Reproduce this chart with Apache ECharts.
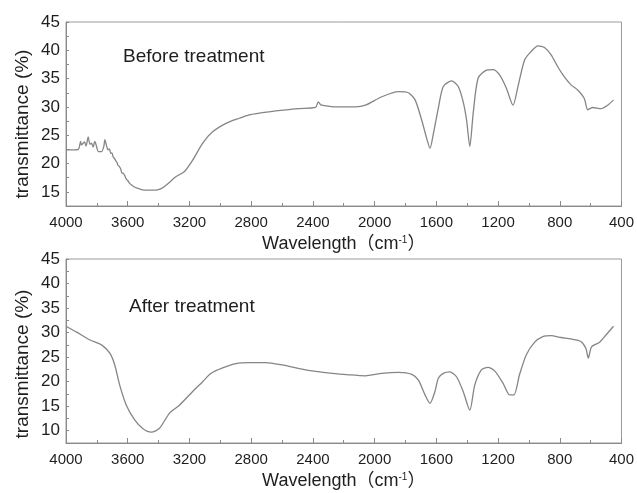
<!DOCTYPE html>
<html>
<head>
<meta charset="utf-8">
<script src="https://cdn.jsdelivr.net/npm/echarts@6/dist/echarts.min.js"></script>
<style>
  html, body { margin: 0; padding: 0; background: #fff; }
  #chart { width: 637px; height: 493px; }
</style>
</head>
<body>
<div id="chart"></div>
<script>
// FTIR spectra
const beforeWave = [4000, 3960, 3920, 3905, 3900, 3880, 3870, 3856, 3845, 3834, 3825, 3813, 3800, 3791, 3770, 3755, 3748, 3735, 3727, 3718, 3710, 3702, 3695, 3688, 3680, 3670, 3663, 3655, 3645, 3638, 3630, 3620, 3610, 3600, 3587, 3575, 3560, 3544, 3510, 3479, 3415, 3380, 3350, 3286, 3232, 3179, 3114, 3050, 2963, 2877, 2813, 2748, 2641, 2490, 2383, 2365, 2350, 2340, 2254, 2125, 2060, 1953, 1845, 1781, 1737, 1695, 1662, 1641, 1619, 1587, 1555, 1501, 1458, 1426, 1404, 1383, 1361, 1329, 1275, 1232, 1189, 1146, 1103, 1071, 1028, 985, 942, 899, 856, 813, 770, 727, 684, 641, 619, 587, 533, 490, 452];
const beforeT = [22.4, 22.4, 22.5, 23.9, 23.3, 23.8, 23.1, 24.7, 23.4, 23.6, 22.9, 23.9, 22.8, 22.1, 22.1, 23.0, 24.2, 22.9, 22.4, 22.6, 21.8, 21.9, 21.2, 21.0, 20.6, 20.2, 19.7, 19.5, 19.0, 18.3, 18.3, 17.9, 17.3, 17.0, 16.5, 16.2, 15.9, 15.7, 15.4, 15.3, 15.3, 15.6, 16.2, 17.7, 18.6, 20.6, 23.6, 25.6, 27.1, 28.0, 28.6, 28.9, 29.3, 29.7, 29.9, 30.9, 30.4, 30.3, 30.0, 30.0, 30.3, 31.8, 32.7, 32.5, 31.2, 27.7, 24.4, 22.7, 25.3, 29.8, 33.6, 34.6, 33.6, 30.9, 27.7, 23.0, 28.9, 35.1, 36.5, 36.6, 35.6, 33.3, 30.3, 33.6, 38.3, 39.8, 40.8, 40.5, 39.2, 37.1, 35.3, 33.9, 33.0, 31.5, 29.5, 29.9, 29.7, 30.3, 31.2];

const afterWave = [4000, 3931, 3845, 3770, 3716, 3684, 3652, 3609, 3555, 3501, 3447, 3394, 3329, 3265, 3179, 3114, 3060, 2985, 2899, 2813, 2705, 2598, 2448, 2275, 2168, 2060, 1953, 1845, 1759, 1716, 1673, 1641, 1609, 1587, 1555, 1512, 1469, 1426, 1383, 1351, 1308, 1265, 1222, 1168, 1125, 1097, 1061, 1018, 964, 910, 856, 792, 727, 663, 631, 615, 594, 544, 501, 452];
const afterT = [31.3, 30.1, 28.5, 27.5, 25.8, 23.4, 19.3, 15.2, 12.2, 10.4, 9.7, 10.5, 13.6, 15.2, 18.0, 20.0, 21.7, 22.8, 23.7, 23.9, 23.9, 23.4, 22.4, 21.7, 21.4, 21.2, 21.7, 21.9, 21.5, 20.3, 17.3, 15.6, 18.0, 20.7, 21.7, 22.0, 21.0, 18.0, 14.2, 19.3, 22.4, 22.9, 22.2, 19.7, 17.3, 17.3, 21.4, 25.4, 28.0, 29.2, 29.4, 29.0, 28.7, 28.2, 26.8, 24.8, 27.1, 28.0, 29.5, 31.3];

const panelLabels = ["Before treatment", "After treatment"];
const yRanges = [[12.5, 45], [7.5, 45]];

const font = "'Liberation Sans', Arial, 'Noto Sans CJK SC', sans-serif";
const textColor = "#1e1e1e";
const lineColor = "#858585";

const pairs = (xs, ys) => xs.map((x, i) => [x, ys[i]]);

const myChart = echarts.init(document.getElementById("chart"), null, { renderer: "canvas" });

const grids = [
  { left: 66, right: 13, top: 22, height: 184 },
  { left: 66, right: 13, top: 259, height: 184 },
].map(g => ({ ...g, show: true, borderColor: "#9a9a9a", borderWidth: 1, backgroundColor: "#fff" }));

const xAxes = [0, 1].map(i => ({
  type: "value",
  gridIndex: i,
  inverse: true,
  min: 400,
  max: 4000,
  interval: 400,
  name: "Wavelength（cm{sup|-1}）",
  nameLocation: "middle",
  nameGap: 29,
  nameTextStyle: {
    fontFamily: font,
    fontSize: 18,
    color: textColor,
    rich: {
      sup: { fontFamily: font, fontSize: 10, color: textColor, verticalAlign: "top", padding: [0, 0, 8, 0] },
    },
  },
  axisLine: { show: true, lineStyle: { color: "#8a8a8a", width: 1 } },
  axisTick: { show: true, inside: true, length: 5, lineStyle: { color: "#8a8a8a" } },
  minorTick: { show: true, splitNumber: 2, length: 3, lineStyle: { color: "#8a8a8a" } },
  splitLine: { show: false },
  axisLabel: {
    fontFamily: font, fontSize: 15, color: textColor, margin: 9,
    showMinLabel: true, showMaxLabel: true,
    formatter: v => String(v),
  },
}));

const yAxes = [0, 1].map(i => ({
  type: "value",
  gridIndex: i,
  min: yRanges[i][0],
  max: yRanges[i][1],
  interval: 2.5,
  axisLine: { show: true, lineStyle: { color: "#8a8a8a", width: 1 } },
  axisTick: { show: true, inside: true, length: 3, lineStyle: { color: "#8a8a8a" } },
  splitLine: { show: false },
  axisLabel: {
    fontFamily: font,
    fontSize: 17,
    color: textColor,
    margin: 6,
    formatter: v => (v % 5 === 0 ? String(v) : ""),
  },
}));

const series = [pairs(beforeWave, beforeT), pairs(afterWave, afterT)].map((d, i) => ({
  type: "line",
  xAxisIndex: i,
  yAxisIndex: i,
  data: d,
  showSymbol: false,
  smooth: 0.25,
  lineStyle: { color: lineColor, width: 1.3 },
  silent: true,
  animation: false,
}));

// y titles and panel labels
const graphic = [
  { type: "text", x: 23, y: 124, rotation: Math.PI / 2,
    style: { text: "transmittance (%)", font: `19px ${font}`, fill: textColor, align: "center", verticalAlign: "middle" } },
  { type: "text", x: 23, y: 364, rotation: Math.PI / 2,
    style: { text: "transmittance (%)", font: `19px ${font}`, fill: textColor, align: "center", verticalAlign: "middle" } },
  { type: "text", x: 123, y: 57,
    style: { text: panelLabels[0], font: `19px ${font}`, fill: textColor, align: "left", verticalAlign: "middle" } },
  { type: "text", x: 129, y: 307,
    style: { text: panelLabels[1], font: `19px ${font}`, fill: textColor, align: "left", verticalAlign: "middle" } },
];

myChart.setOption({
  animation: false,
  backgroundColor: "#fff",
  grid: grids,
  xAxis: xAxes,
  yAxis: yAxes,
  series,
  graphic,
});
</script>
</body>
</html>
